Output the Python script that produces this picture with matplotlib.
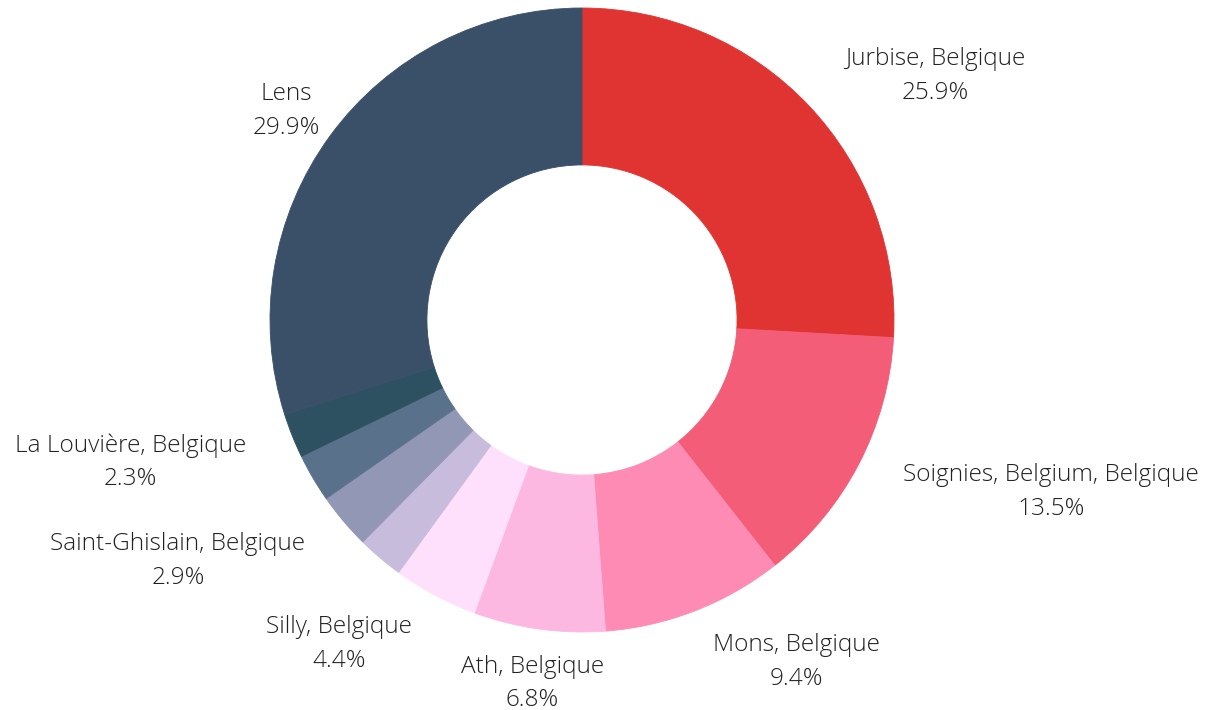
import matplotlib
matplotlib.use("Agg")
import matplotlib.pyplot as plt
import numpy as np

# ---- data ----
categories = ["Jurbise, Belgique", "Soignies, Belgium, Belgique", "Mons, Belgique",
              "Ath, Belgique", "Silly, Belgique", "Other A", "Saint-Ghislain, Belgique",
              "Other B", "La Louvière, Belgique", "Lens"]
values = [25.9, 13.5, 9.4, 6.8, 4.4, 2.4, 2.9, 2.5, 2.3, 29.9]
show_label = [True, True, True, True, True, False, True, False, True, True]
colors = ["#E03432", "#F35D77", "#FD8BB3", "#FDB8E2", "#FFE0FC",
          "#C8BCDC", "#9197B5", "#5A718B", "#2D5161", "#3A5069"]

W, H, DPI = 1211, 710, 100
fig = plt.figure(figsize=(W / DPI, H / DPI), dpi=DPI)
cx, cy, r = 582, 320, 312
ax = fig.add_axes([(cx - r) / W, (H - cy - r) / H, 2 * r / W, 2 * r / H])

wedges, _ = ax.pie(values, colors=colors, startangle=90, counterclock=False, radius=1,
                   wedgeprops=dict(width=0.503, linewidth=0.6))
for w_, c_ in zip(wedges, colors):
    w_.set_edgecolor(c_)
ax.set_xlim(-1, 1)
ax.set_ylim(-1, 1)
ax.axis("off")

total = float(sum(values))
cum = np.cumsum(values)
R = 1.16
for lab, v, c, show in zip(categories, values, cum, show_label):
    if not show:
        continue
    t = np.deg2rad(360.0 * (c - v / 2.0) / total)
    s, co = np.sin(t), np.cos(t)
    x, y = R * s, R * co - 5 / r
    if s > 0.15:
        ha = "left"
    elif s < -0.15:
        ha = "right"
    else:
        ha = "center"
    if lab == "Lens":
        x += 30 / r
    if s < -0.5 and co < 0:
        y -= 3 / r
    ax.text(x, y, f"{lab}\n{v:.1f}%", ha=ha, va="center", multialignment="center",
            fontsize=17.6, family=["Open Sans", "DejaVu Sans"], fontweight="light",
            color="#222222", linespacing=1.55, clip_on=False)

fig.savefig("out.png", dpi=DPI, facecolor="white")
